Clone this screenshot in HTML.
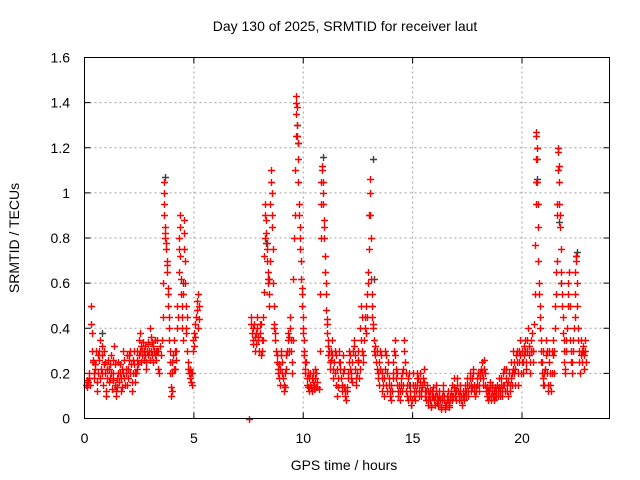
<!DOCTYPE html>
<html><head><meta charset="utf-8"><style>
body{margin:0;background:#fff}
svg{display:block;font-family:"Liberation Sans",sans-serif}
</style></head><body>
<svg id="chart" width="640" height="480">
<rect width="640" height="480" fill="#fff"/>
<text x="345" y="31" font-size="14" text-anchor="middle">Day 130 of 2025, SRMTID for receiver laut</text>
<g id="grid"></g>
<g id="ticks"></g>
<g id="marks"></g>
<rect x="84.5" y="57.5" width="525" height="361" fill="none" stroke="#000"/>
<text x="344" y="470" font-size="14" text-anchor="middle">GPS time / hours</text>
<text transform="translate(19,238) rotate(-90)" font-size="14" text-anchor="middle">SRMTID / TECUs</text>
</svg>
<script>
const xTicks=[0,5,10,15,20];
const yTicks=[0,0.2,0.4,0.6,0.8,1,1.2,1.4,1.6];
const yTickLabels=["0","0.2","0.4","0.6","0.8","1","1.2","1.4","1.6"];
// [time(h), SRMTID] pairs, grouped by time span
const seg0to3=[[0.05,0.15],[0.1,0.17],[0.12,0.14],[0.15,0.16],[0.2,0.2],[0.22,0.18],[0.25,0.15],[0.3,0.5],[0.3,0.42],[0.32,0.38],[0.35,0.3],[0.37,0.25],[0.4,0.26],[0.42,0.2],[0.45,0.18],[0.48,0.24],[0.5,0.22],[0.52,0.3],[0.55,0.12],[0.58,0.16],[0.6,0.28],[0.62,0.2],[0.65,0.3],[0.68,0.26],[0.7,0.35],[0.72,0.18],[0.75,0.22],[0.78,0.28],[0.8,0.2],[0.82,0.32],[0.85,0.15],[0.88,0.24],[0.9,0.3],[0.92,0.2],[0.95,0.25],[0.98,0.12],[1.0,0.1],[1.02,0.22],[1.05,0.18],[1.08,0.26],[1.1,0.22],[1.12,0.16],[1.15,0.18],[1.18,0.24],[1.2,0.28],[1.22,0.2],[1.25,0.13],[1.28,0.17],[1.3,0.2],[1.32,0.26],[1.35,0.32],[1.38,0.24],[1.4,0.15],[1.42,0.12],[1.45,0.1],[1.48,0.18],[1.5,0.14],[1.52,0.2],[1.55,0.25],[1.58,0.16],[1.6,0.2],[1.62,0.24],[1.65,0.12],[1.68,0.18],[1.7,0.22],[1.72,0.14],[1.75,0.3],[1.78,0.2],[1.8,0.18],[1.82,0.26],[1.85,0.15],[1.88,0.2],[1.9,0.22],[1.92,0.28],[1.95,0.15],[1.98,0.18],[2.0,0.22],[2.02,0.26],[2.05,0.28],[2.08,0.2],[2.1,0.3],[2.12,0.24],[2.15,0.16],[2.18,0.12],[2.2,0.2],[2.22,0.26],[2.25,0.24],[2.28,0.3],[2.3,0.16],[2.32,0.2],[2.35,0.2],[2.38,0.22],[2.4,0.3],[2.42,0.26],[2.45,0.24],[2.48,0.28],[2.5,0.35],[2.52,0.3],[2.55,0.38],[2.58,0.32],[2.6,0.25],[2.62,0.28],[2.65,0.3],[2.68,0.34],[2.7,0.3],[2.72,0.26],[2.75,0.28],[2.78,0.32],[2.8,0.22],[2.82,0.25],[2.85,0.3],[2.88,0.34],[2.9,0.33],[2.92,0.28],[2.95,0.3],[2.98,0.26],[3.0,0.4],[3.02,0.36],[3.05,0.3],[3.08,0.34],[3.1,0.28],[3.12,0.32],[3.15,0.25],[3.18,0.3],[3.2,0.35],[3.22,0.28],[3.25,0.3],[3.28,0.26],[3.3,0.35],[3.32,0.3],[3.35,0.22],[3.38,0.3],[3.4,0.2],[3.45,0.32],[3.5,0.28]];
const seg3to6=[[3.55,0.35],[3.58,0.45],[3.6,0.6],[3.62,1.05],[3.63,1.0],[3.64,0.95],[3.65,0.9],[3.67,0.85],[3.68,0.82],[3.7,0.8],[3.72,0.75],[3.73,0.78],[3.75,0.7],[3.77,0.65],[3.78,0.68],[3.8,0.58],[3.82,0.5],[3.83,0.55],[3.85,0.45],[3.87,0.4],[3.88,0.35],[3.9,0.3],[3.92,0.25],[3.93,0.2],[3.95,0.14],[3.97,0.1],[3.98,0.12],[4.0,0.2],[4.02,0.25],[4.05,0.28],[4.08,0.22],[4.1,0.35],[4.12,0.3],[4.15,0.22],[4.18,0.26],[4.2,0.3],[4.22,0.4],[4.25,0.5],[4.27,0.45],[4.3,0.65],[4.32,0.8],[4.33,0.75],[4.35,0.72],[4.37,0.9],[4.38,0.85],[4.4,0.62],[4.42,0.55],[4.44,0.5],[4.45,0.45],[4.47,0.4],[4.5,0.35],[4.52,0.55],[4.54,0.75],[4.55,0.88],[4.57,0.82],[4.58,0.7],[4.6,0.6],[4.62,0.5],[4.64,0.4],[4.65,0.38],[4.67,0.3],[4.7,0.45],[4.72,0.22],[4.75,0.25],[4.77,0.2],[4.8,0.18],[4.82,0.22],[4.85,0.2],[4.87,0.16],[4.9,0.15],[4.92,0.2],[4.95,0.3],[4.97,0.35],[5.0,0.32],[5.02,0.38],[5.05,0.42],[5.07,0.36],[5.1,0.45],[5.12,0.48],[5.15,0.52],[5.17,0.4],[5.2,0.55],[5.22,0.5],[5.25,0.44]];
const seg7to10=[[7.5,0.0],[7.6,0.45],[7.62,0.42],[7.65,0.38],[7.68,0.35],[7.7,0.4],[7.72,0.33],[7.75,0.42],[7.78,0.36],[7.8,0.3],[7.82,0.38],[7.85,0.33],[7.88,0.45],[7.9,0.4],[7.92,0.36],[7.95,0.35],[7.98,0.3],[8.0,0.38],[8.02,0.42],[8.05,0.42],[8.08,0.28],[8.1,0.3],[8.12,0.35],[8.15,0.35],[8.18,0.45],[8.2,0.56],[8.22,0.72],[8.23,0.8],[8.25,0.9],[8.27,0.95],[8.28,0.88],[8.3,0.82],[8.32,0.78],[8.33,0.75],[8.35,0.7],[8.37,0.65],[8.38,0.62],[8.4,0.6],[8.42,0.55],[8.44,0.5],[8.45,0.62],[8.47,0.7],[8.5,0.95],[8.52,1.05],[8.54,1.1],[8.55,1.0],[8.57,0.9],[8.58,0.85],[8.6,0.75],[8.62,0.6],[8.64,0.5],[8.65,0.42],[8.68,0.4],[8.7,0.38],[8.72,0.35],[8.75,0.3],[8.78,0.28],[8.8,0.25],[8.83,0.22],[8.85,0.2],[8.88,0.24],[8.9,0.18],[8.93,0.15],[8.95,0.22],[8.98,0.28],[9.0,0.3],[9.03,0.25],[9.05,0.2],[9.08,0.18],[9.1,0.15],[9.12,0.12],[9.15,0.14],[9.18,0.2],[9.2,0.22],[9.23,0.28],[9.25,0.3],[9.28,0.35],[9.3,0.38],[9.33,0.3],[9.35,0.36],[9.38,0.45],[9.4,0.4],[9.42,0.35],[9.45,0.3],[9.48,0.25],[9.5,0.2],[9.52,0.35]];
const seg9to12=[[9.55,0.62],[9.58,0.8],[9.6,0.9],[9.62,1.1],[9.65,1.25],[9.66,1.35],[9.68,1.43],[9.69,1.4],[9.7,1.38],[9.72,1.3],[9.73,1.25],[9.75,1.22],[9.77,1.15],[9.78,1.05],[9.8,0.95],[9.82,0.9],[9.83,0.85],[9.85,0.8],[9.87,0.75],[9.88,0.7],[9.9,0.62],[9.92,0.58],[9.93,0.55],[9.95,0.5],[9.97,0.45],[9.98,0.4],[10.0,0.38],[10.02,0.35],[10.03,0.3],[10.05,0.28],[10.07,0.25],[10.08,0.22],[10.1,0.2],[10.12,0.25],[10.15,0.18],[10.18,0.15],[10.2,0.2],[10.22,0.14],[10.25,0.18],[10.28,0.12],[10.3,0.15],[10.33,0.2],[10.35,0.14],[10.38,0.18],[10.4,0.12],[10.43,0.16],[10.45,0.2],[10.48,0.15],[10.5,0.13],[10.53,0.22],[10.55,0.18],[10.58,0.14],[10.6,0.2],[10.63,0.16],[10.65,0.14],[10.7,0.13],[10.75,0.3],[10.78,0.55],[10.8,0.8],[10.82,0.95],[10.83,1.05],[10.85,1.1],[10.87,1.12],[10.88,1.05],[10.9,1.0],[10.92,0.95],[10.93,0.88],[10.95,0.85],[10.97,0.8],[10.98,0.72],[11.0,0.65],[11.02,0.6],[11.03,0.55],[11.05,0.48],[11.07,0.44],[11.08,0.42],[11.1,0.38],[11.12,0.35],[11.13,0.32],[11.15,0.28],[11.17,0.3],[11.2,0.25],[11.22,0.22],[11.25,0.3],[11.27,0.26],[11.3,0.35],[11.33,0.28],[11.35,0.22],[11.38,0.18],[11.4,0.25],[11.43,0.3],[11.45,0.2],[11.48,0.15],[11.5,0.28],[11.53,0.22],[11.55,0.1],[11.58,0.14],[11.6,0.18],[11.63,0.25],[11.65,0.3],[11.68,0.22],[11.7,0.25],[11.73,0.18],[11.75,0.15],[11.78,0.12],[11.8,0.28],[11.83,0.2],[11.85,0.22],[11.88,0.14],[11.9,0.12],[11.93,0.1],[11.95,0.08],[11.98,0.14],[12.0,0.12],[12.03,0.18],[12.05,0.2],[12.08,0.25],[12.1,0.3],[12.13,0.28],[12.15,0.22],[12.18,0.2],[12.2,0.18],[12.23,0.16],[12.25,0.25],[12.28,0.3],[12.3,0.35],[12.33,0.32],[12.35,0.28],[12.38,0.22],[12.4,0.15],[12.43,0.18],[12.45,0.2],[12.48,0.26]];
const seg12to15=[[12.5,0.3],[12.52,0.25],[12.55,0.18],[12.58,0.22],[12.6,0.4],[12.62,0.35],[12.65,0.5],[12.68,0.45],[12.7,0.3],[12.72,0.28],[12.75,0.25],[12.78,0.35],[12.8,0.45],[12.83,0.4],[12.85,0.38],[12.88,0.5],[12.9,0.45],[12.92,0.55],[12.95,0.6],[12.97,0.65],[13.0,0.75],[13.02,0.9],[13.04,1.06],[13.05,1.0],[13.07,0.9],[13.08,0.8],[13.1,0.62],[13.12,0.55],[13.13,0.5],[13.15,0.45],[13.18,0.42],[13.2,0.4],[13.22,0.35],[13.25,0.3],[13.28,0.32],[13.3,0.28],[13.32,0.25],[13.35,0.22],[13.38,0.3],[13.4,0.2],[13.42,0.18],[13.45,0.25],[13.48,0.15],[13.5,0.22],[13.52,0.3],[13.55,0.28],[13.58,0.2],[13.6,0.18],[13.62,0.12],[13.65,0.15],[13.68,0.1],[13.7,0.18],[13.72,0.22],[13.75,0.3],[13.78,0.28],[13.8,0.15],[13.82,0.12],[13.85,0.2],[13.88,0.25],[13.9,0.18],[13.92,0.15],[13.95,0.12],[13.98,0.1],[14.0,0.15],[14.02,0.08],[14.05,0.12],[14.08,0.18],[14.1,0.2],[14.12,0.25],[14.15,0.3],[14.18,0.35],[14.2,0.28],[14.22,0.22],[14.25,0.18],[14.28,0.15],[14.3,0.2],[14.32,0.12],[14.35,0.1],[14.38,0.15],[14.4,0.08],[14.42,0.12],[14.45,0.18],[14.48,0.15],[14.5,0.12],[14.52,0.2],[14.55,0.15],[14.58,0.22],[14.6,0.3],[14.62,0.35],[14.65,0.25],[14.68,0.2],[14.7,0.12],[14.72,0.15],[14.75,0.1],[14.78,0.08],[14.8,0.18],[14.82,0.2],[14.85,0.15],[14.88,0.12],[14.9,0.1],[14.92,0.06],[14.95,0.08]];
const seg15to18=[[15.0,0.2],[15.02,0.15],[15.05,0.12],[15.08,0.1],[15.1,0.08],[15.12,0.15],[15.15,0.12],[15.18,0.18],[15.2,0.2],[15.22,0.15],[15.25,0.18],[15.28,0.12],[15.3,0.1],[15.33,0.2],[15.35,0.16],[15.38,0.12],[15.4,0.1],[15.43,0.14],[15.45,0.15],[15.48,0.18],[15.5,0.22],[15.52,0.16],[15.55,0.12],[15.58,0.1],[15.6,0.08],[15.63,0.12],[15.65,0.15],[15.68,0.12],[15.7,0.06],[15.72,0.08],[15.75,0.1],[15.78,0.12],[15.8,0.08],[15.82,0.06],[15.85,0.05],[15.88,0.1],[15.9,0.12],[15.92,0.14],[15.95,0.1],[15.98,0.08],[16.0,0.06],[16.02,0.1],[16.05,0.12],[16.08,0.15],[16.1,0.1],[16.12,0.07],[16.15,0.06],[16.18,0.08],[16.2,0.1],[16.22,0.12],[16.25,0.08],[16.28,0.05],[16.3,0.04],[16.33,0.08],[16.35,0.1],[16.38,0.12],[16.4,0.15],[16.42,0.1],[16.45,0.08],[16.48,0.06],[16.5,0.04],[16.52,0.06],[16.55,0.08],[16.58,0.1],[16.6,0.12],[16.62,0.08],[16.65,0.06],[16.68,0.05],[16.7,0.08],[16.72,0.1],[16.75,0.12],[16.78,0.15],[16.8,0.1],[16.82,0.08],[16.85,0.1],[16.88,0.14],[16.9,0.18],[16.92,0.12],[16.95,0.1],[16.98,0.08],[17.0,0.12],[17.02,0.15],[17.05,0.18],[17.08,0.12],[17.1,0.1],[17.12,0.08],[17.15,0.12],[17.18,0.15],[17.2,0.1],[17.22,0.08],[17.25,0.06],[17.28,0.1],[17.3,0.12],[17.33,0.08],[17.35,0.1],[17.38,0.12],[17.4,0.15],[17.42,0.1],[17.45,0.12],[17.48,0.15],[17.5,0.18],[17.52,0.12],[17.55,0.1],[17.58,0.15],[17.6,0.18],[17.62,0.2],[17.65,0.15],[17.68,0.12],[17.7,0.14],[17.72,0.18],[17.75,0.22],[17.78,0.2],[17.8,0.15],[17.82,0.12],[17.85,0.1],[17.88,0.14],[17.9,0.12],[17.92,0.15],[17.95,0.18],[17.98,0.2]];
const seg18to20=[[18.0,0.2],[18.03,0.15],[18.05,0.12],[18.08,0.18],[18.1,0.2],[18.13,0.22],[18.15,0.25],[18.18,0.2],[18.2,0.18],[18.23,0.15],[18.25,0.22],[18.28,0.26],[18.3,0.2],[18.33,0.15],[18.35,0.12],[18.38,0.1],[18.4,0.14],[18.43,0.12],[18.45,0.08],[18.48,0.1],[18.5,0.12],[18.53,0.16],[18.55,0.14],[18.58,0.1],[18.6,0.08],[18.63,0.12],[18.65,0.15],[18.68,0.1],[18.7,0.12],[18.73,0.08],[18.75,0.1],[18.78,0.14],[18.8,0.12],[18.83,0.1],[18.85,0.15],[18.88,0.12],[18.9,0.1],[18.93,0.14],[18.95,0.18],[18.98,0.12],[19.0,0.1],[19.03,0.15],[19.05,0.18],[19.08,0.12],[19.1,0.1],[19.13,0.15],[19.15,0.2],[19.18,0.22],[19.2,0.15],[19.23,0.12],[19.25,0.18],[19.28,0.22],[19.3,0.15],[19.33,0.12],[19.35,0.1],[19.38,0.16],[19.4,0.2],[19.43,0.15],[19.45,0.12],[19.48,0.18],[19.5,0.25],[19.53,0.2],[19.55,0.15],[19.58,0.22],[19.6,0.3],[19.63,0.25],[19.65,0.2],[19.68,0.15],[19.7,0.22],[19.73,0.28],[19.75,0.3],[19.78,0.25],[19.8,0.2],[19.83,0.15],[19.85,0.25],[19.88,0.3],[19.9,0.35],[19.93,0.28],[19.95,0.2],[19.98,0.25],[20.0,0.3],[20.03,0.25],[20.05,0.2],[20.08,0.28],[20.1,0.32],[20.13,0.35],[20.15,0.3],[20.18,0.25],[20.2,0.22],[20.23,0.3],[20.25,0.35],[20.28,0.4],[20.3,0.32],[20.33,0.28],[20.35,0.2],[20.38,0.25],[20.4,0.3],[20.43,0.35],[20.45,0.38],[20.48,0.3],[20.5,0.25]];
const seg20to23=[[20.52,0.3],[20.55,0.42],[20.58,0.55],[20.6,0.77],[20.62,0.95],[20.63,1.05],[20.64,1.15],[20.65,1.27],[20.66,1.25],[20.67,1.2],[20.68,1.15],[20.7,1.05],[20.72,0.95],[20.73,0.85],[20.75,0.7],[20.77,0.6],[20.78,0.55],[20.8,0.5],[20.82,0.45],[20.83,0.4],[20.85,0.35],[20.87,0.3],[20.88,0.25],[20.9,0.2],[20.92,0.25],[20.94,0.15],[20.96,0.18],[20.98,0.3],[21.0,0.2],[21.02,0.15],[21.05,0.22],[21.08,0.28],[21.1,0.35],[21.12,0.3],[21.15,0.2],[21.18,0.12],[21.2,0.15],[21.22,0.25],[21.25,0.3],[21.28,0.2],[21.3,0.15],[21.32,0.12],[21.35,0.2],[21.38,0.3],[21.4,0.35],[21.42,0.28],[21.45,0.2],[21.48,0.3],[21.5,0.4],[21.52,0.5],[21.54,0.55],[21.56,0.65],[21.58,0.7],[21.6,0.9],[21.62,0.95],[21.63,1.1],[21.64,1.2],[21.65,1.18],[21.67,1.12],[21.68,1.05],[21.7,0.95],[21.72,0.9],[21.74,0.85],[21.76,0.75],[21.78,0.65],[21.8,0.6],[21.82,0.55],[21.84,0.5],[21.86,0.45],[21.88,0.38],[21.9,0.35],[21.92,0.3],[21.94,0.25],[21.96,0.22],[21.98,0.2],[22.0,0.3],[22.02,0.35],[22.05,0.4],[22.08,0.5],[22.1,0.55],[22.12,0.6],[22.15,0.65],[22.18,0.5],[22.2,0.35],[22.22,0.3],[22.25,0.25],[22.28,0.2],[22.3,0.25],[22.33,0.3],[22.35,0.35],[22.38,0.4],[22.4,0.45],[22.42,0.55],[22.44,0.65],[22.46,0.72],[22.48,0.7],[22.5,0.6],[22.52,0.5],[22.55,0.4],[22.58,0.35],[22.6,0.3],[22.62,0.25],[22.65,0.2],[22.68,0.28],[22.7,0.35],[22.72,0.3],[22.75,0.25],[22.78,0.32],[22.8,0.3],[22.82,0.22],[22.85,0.28],[22.88,0.35],[22.9,0.3],[22.92,0.25]];
const greyPoints=[[0.8,0.38],[3.7,1.07],[4.5,0.6],[9.72,1.3],[9.75,1.22],[10.88,1.16],[13.2,1.15],[13.25,0.62],[14.9,0.15],[20.7,1.06],[21.7,0.87],[21.8,0.6],[22.5,0.74],[8.3,0.78],[22.48,0.72]];

const X0=84.5,X1=609.5,Y0=418.5,Y1=57.5;
const xScale=t=>X0+(t-0)/(24-0)*(X1-X0);
const yScale=v=>Y0-(v-0)/(1.6-0)*(Y0-Y1);
const NS="http://www.w3.org/2000/svg";
const grid=document.getElementById('grid'),ticks=document.getElementById('ticks'),marks=document.getElementById('marks');
function mk(tag,attrs,parent){const e=document.createElementNS(NS,tag);for(const k in attrs)e.setAttribute(k,attrs[k]);parent.appendChild(e);return e;}
xTicks.forEach(t=>{
  const x=xScale(t);
  if(t>0){const g=mk('line',{x1:x,x2:x,y1:Y0,y2:Y1,stroke:'#a0a0a0','stroke-dasharray':'2,3'},grid);
  
  }
  mk('line',{x1:x,x2:x,y1:Y0,y2:Y0-6,stroke:'#000'},ticks);
  mk('line',{x1:x,x2:x,y1:Y1,y2:Y1+6,stroke:'#000'},ticks);
  const l=mk('text',{x:x,y:443,'font-size':14,'text-anchor':'middle'},ticks);l.textContent=t;
  
  
});
yTicks.forEach((v,i)=>{
  const y=yScale(v);
  if(v>0&&v<1.6){const g=mk('line',{x1:X0,x2:X1,y1:y,y2:y,stroke:'#a0a0a0','stroke-dasharray':'2,3'},grid);
  
  }
  mk('line',{x1:X0,x2:X0+6,y1:y,y2:y,stroke:'#000'},ticks);
  mk('line',{x1:X1,x2:X1-6,y1:y,y2:y,stroke:'#000'},ticks);
  const l=mk('text',{x:70,y:y+5,'font-size':14,'text-anchor':'end'},ticks);l.textContent=yTickLabels[i];
  
  
});
function plus(t,v,color){
  const x=Math.round(xScale(t))+0.5,y=Math.round(yScale(v))+0.5;
  return mk('path',{d:`M${x-3.5} ${y}H${x+3.5}M${x} ${y-3.5}V${y+3.5}`,stroke:color,'stroke-width':1.4,fill:'none'},marks);
}
greyPoints.forEach(p=>{const m=plus(p[0],p[1],'#404040');
  
  });
[seg0to3,seg3to6,seg7to10,seg9to12,seg12to15,seg15to18,seg18to20,seg20to23].forEach(seg=>seg.forEach(p=>{
  const m=plus(p[0],p[1],'#ff0000');
  
  
}));
</script>
</body></html>
